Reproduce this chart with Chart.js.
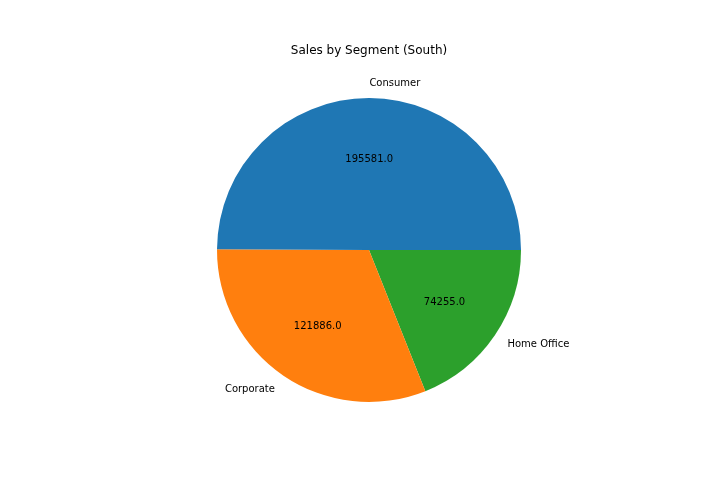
<!DOCTYPE html>
<html>
<head>
<meta charset="utf-8">
<script src="https://cdn.jsdelivr.net/npm/chart.js@4/dist/chart.umd.min.js"></script>
<style>
  html, body { margin: 0; padding: 0; background: #ffffff; }
  #wrap { width: 720px; height: 504px; position: relative; }
</style>
</head>
<body>
<div id="wrap"><canvas id="segment_chart"></canvas></div>
<script>
// matplotlib draws counter-clockwise from 3 o'clock, chart.js goes clockwise,
// so the slices are listed in reverse order here
var segments = ["Home Office", "Corporate", "Consumer"];
var sales = [74255, 121886, 195581];
var colors = ["#2ca02c", "#ff7f0e", "#1f77b4"];
var chartTitle = "Sales by Segment (South)";

var pieLabels = {
  id: "pieLabels",
  afterDraw: function(chart) {
    var ctx = chart.ctx;
    var meta = chart.getDatasetMeta(0);
    var area = chart.chartArea;
    var nudge = 1; // canvas "middle" sits a bit higher than matplotlib's center
    ctx.save();
    ctx.fillStyle = "#000000";
    ctx.textBaseline = "middle";

    ctx.font = "12px 'DejaVu Sans'";
    ctx.textAlign = "center";
    ctx.fillText(chartTitle, (area.left + area.right) / 2, 50 + nudge);

    ctx.font = "10px 'DejaVu Sans'";
    meta.data.forEach(function(arc, i) {
      var p = arc.getProps(["x", "y", "startAngle", "endAngle", "outerRadius"], true);
      var mid = (p.startAngle + p.endAngle) / 2;
      var c = Math.cos(mid), s = Math.sin(mid);
      // category label just outside the pie
      ctx.textAlign = c > 0 ? "left" : "right";
      ctx.fillText(segments[i], p.x + c * p.outerRadius * 1.1, p.y + s * p.outerRadius * 1.1 + nudge);
      // value inside the slice
      ctx.textAlign = "center";
      ctx.fillText(sales[i].toFixed(1), p.x + c * p.outerRadius * 0.6, p.y + s * p.outerRadius * 0.6 + nudge);
    });
    ctx.restore();
  }
};

var ctx = document.getElementById("segment_chart").getContext("2d");
var segmentChart = new Chart(ctx, {
  type: "pie",
  data: {
    labels: segments,
    datasets: [{
      data: sales,
      backgroundColor: colors,
      borderWidth: 0
    }]
  },
  options: {
    responsive: true,
    maintainAspectRatio: false,
    animation: false,
    rotation: 90,
    layout: {
      padding: { left: 217, right: 199, top: 98, bottom: 102 }
    },
    plugins: {
      legend: { display: false },
      title: { display: false },
      tooltip: { enabled: false }
    }
  },
  plugins: [pieLabels]
});
</script>
</body>
</html>
